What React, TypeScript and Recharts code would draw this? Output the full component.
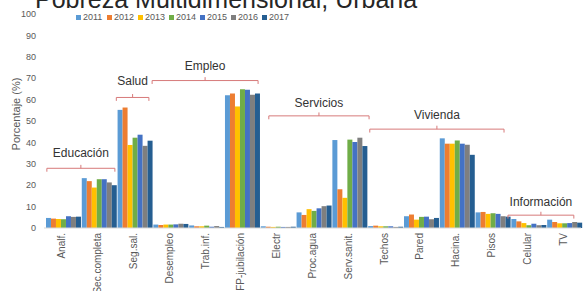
import React from 'react'
import {
  Bar,
  BarChart,
  Legend,
  ReferenceDot,
  ReferenceLine,
  XAxis,
  YAxis,
} from 'recharts'

const categories = [
  'Analf.',
  'Sec.completa',
  'Seg.sal.',
  'Desempleo',
  'Trab.inf.',
  'FP-jubilación',
  'Electr',
  'Proc.agua',
  'Serv.sanit.',
  'Techos',
  'Pared',
  'Hacina.',
  'Pisos',
  'Celular',
  'TV',
]

const years = ['2011', '2012', '2013', '2014', '2015', '2016', '2017']

const v2011 = [4.7, 23.3, 55.2, 1.6, 1.2, 62.0, 0.8, 7.3, 41.1, 0.9, 5.5, 41.9, 7.3, 4.2, 3.9]
const v2012 = [4.4, 21.9, 56.3, 1.4, 0.8, 62.8, 0.6, 6.1, 18.1, 1.1, 6.3, 39.4, 7.5, 3.1, 2.8]
const v2013 = [4.2, 18.9, 38.8, 1.6, 0.8, 56.8, 0.5, 8.8, 14.1, 0.8, 3.9, 39.4, 6.6, 2.3, 2.2]
const v2014 = [4.1, 22.8, 42.2, 1.6, 1.1, 64.8, 0.6, 8.0, 41.3, 0.8, 5.2, 40.9, 6.9, 1.3, 2.2]
const v2015 = [5.5, 22.8, 43.6, 1.7, 0.6, 64.6, 0.5, 9.2, 40.2, 0.8, 5.3, 39.4, 6.6, 2.0, 2.3]
const v2016 = [5.2, 21.3, 38.4, 2.0, 0.9, 62.3, 0.5, 10.2, 42.2, 0.5, 4.1, 38.9, 5.5, 1.3, 2.8]
const v2017 = [5.3, 20.0, 40.8, 1.9, 0.5, 62.9, 0.6, 10.5, 38.3, 0.6, 4.7, 34.2, 5.3, 1.4, 2.5]

const yTicks = [0, 10, 20, 30, 40, 50, 60, 70, 80, 90, 100]

const groupNames = ['Educación', 'Salud', 'Empleo', 'Servicios', 'Vivienda', 'Información']

const seriesValues = [v2011, v2012, v2013, v2014, v2015, v2016, v2017]
const colors = ['#5b9bd5', '#ed7d31', '#ffc000', '#70ad47', '#4472c4', '#7f7f7f', '#255e91']

const chartData = categories.map((name, i) => {
  const row: Record<string, any> = { name, pos: i + 0.5 }
  years.forEach((y, k) => {
    row[y] = seriesValues[k][i]
  })
  return row
})

// bracket placement in category units (0..15) and % levels
const brackets = [
  { from: 0.08, to: 1.98, y: 27.9, ty: 35.2 },
  { from: 2.02, to: 2.93, y: 61.0, ty: 69.0 },
  { from: 3.02, to: 5.98, y: 68.9, ty: 75.9 },
  { from: 6.28, to: 9.08, y: 52.4, ty: 58.7 },
  { from: 9.1, to: 12.85, y: 46.2, ty: 52.9 },
  { from: 12.96, to: 14.8, y: 6.0, ty: 12.4 },
]

const RED = '#d77a7a'
const TICK = 1.6
const FONT = '"Liberation Sans", Arial, sans-serif'

function CategoryTick(props: any) {
  const { x, y, payload } = props
  return (
    <g transform={`translate(${x},${y})`}>
      <text
        transform="rotate(-90)"
        textAnchor="end"
        dy="0.35em"
        fontSize={10}
        fill="#595959"
        fontFamily={FONT}
      >
        {payload.value}
      </text>
    </g>
  )
}

function YearLegend() {
  return (
    <div style={{ display: 'flex', fontSize: 9, lineHeight: '10px', color: '#595959', fontFamily: FONT }}>
      {years.map((y, k) => (
        <div key={y} style={{ display: 'flex', alignItems: 'center', width: 31 }}>
          <span
            style={{
              display: 'inline-block',
              width: 5,
              height: 5,
              background: colors[k],
              marginRight: 2,
            }}
          />
          <span>{y}</span>
        </div>
      ))}
    </div>
  )
}

export default function App() {
  return (
    <div
      style={{
        position: 'fixed',
        left: 0,
        top: 0,
        width: 584,
        height: 291,
        background: '#fff',
        overflow: 'hidden',
        fontFamily: FONT,
      }}
    >
      <div
        style={{
          position: 'absolute',
          left: 35,
          top: -11,
          fontSize: 25,
          lineHeight: '20px',
          color: '#262626',
          whiteSpace: 'nowrap',
        }}
      >
        Pobreza Multidimensional, Urbana
      </div>
      <BarChart
        width={584}
        height={291}
        data={chartData}
        margin={{ top: 14, right: 3, left: 0, bottom: 0 }}
        barCategoryGap="5.5%"
        barGap={0}
      >
        <XAxis
          xAxisId="c"
          dataKey="name"
          interval={0}
          height={63}
          tickLine={false}
          tickSize={0}
          tickMargin={5}
          axisLine={{ stroke: '#d9d9d9' }}
          tick={<CategoryTick />}
        />
        <XAxis
          xAxisId="n"
          dataKey="pos"
          type="number"
          domain={[0, 15]}
          hide
          allowDataOverflow
        />
        <YAxis
          domain={[0, 100]}
          ticks={yTicks}
          interval={0}
          width={44}
          axisLine={false}
          tickLine={false}
          tickSize={0}
          tickMargin={8}
          tick={{ fontSize: 9, fill: '#595959', fontFamily: FONT }}
          label={{
            content: () => (
              <text
                x={16}
                y={114}
                transform="rotate(-90,16,114)"
                textAnchor="middle"
                dominantBaseline="central"
                fontSize={11}
                fill="#595959"
                fontFamily={FONT}
              >
                Porcentaje (%)
              </text>
            ),
          }}
        />
        <Legend
          layout="horizontal"
          verticalAlign="middle"
          align="center"
          wrapperStyle={{ top: 12, left: 76, width: 240 }}
          content={() => <YearLegend />}
        />
        {years.map((y, k) => (
          <Bar
            key={y}
            xAxisId="c"
            dataKey={y}
            fill={colors[k]}
            isAnimationActive={false}
          />
        ))}
        {brackets.map((b, i) => {
          const mid = (b.from + b.to) / 2
          return (
            <React.Fragment key={groupNames[i]}>
              <ReferenceLine
                xAxisId="n"
                segment={[
                  { x: b.from, y: b.y },
                  { x: b.to, y: b.y },
                ]}
                stroke={RED}
                strokeWidth={1}
              />
              <ReferenceLine
                xAxisId="n"
                segment={[
                  { x: b.from, y: b.y },
                  { x: b.from, y: b.y - TICK },
                ]}
                stroke={RED}
              />
              <ReferenceLine
                xAxisId="n"
                segment={[
                  { x: b.to, y: b.y },
                  { x: b.to, y: b.y - TICK },
                ]}
                stroke={RED}
              />
              <ReferenceLine
                xAxisId="n"
                segment={[
                  { x: mid, y: b.y },
                  { x: mid, y: b.y + TICK },
                ]}
                stroke={RED}
              />
              <ReferenceDot
                xAxisId="n"
                x={mid}
                y={b.ty}
                r={1}
                fill="none"
                stroke="none"
                label={{
                  value: groupNames[i],
                  position: 'center',
                  fontSize: 12,
                  fill: '#333',
                  fontFamily: FONT,
                }}
              />
            </React.Fragment>
          )
        })}
      </BarChart>
    </div>
  )
}
